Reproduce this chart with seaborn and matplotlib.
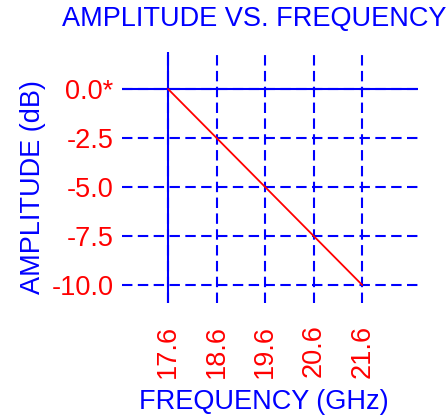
import seaborn as sns
import matplotlib.pyplot as plt
import pandas as pd

# chart values
freq_ghz = [17.6, 18.6, 19.6, 20.6, 21.6]
amplitude_db = [0.0, -2.5, -5.0, -7.5, -10.0]
y_ticks = [0.0, -2.5, -5.0, -7.5, -10.0]
y_tick_labels = ['0.0*', '-2.5', '-5.0', '-7.5', '-10.0']
x_tick_labels = ['17.6', '18.6', '19.6', '20.6', '21.6']

BLUE = '#0000ff'
RED = '#ff0000'
FS = 19.5

sns.set_theme(style='white')
plt.rcParams['font.family'] = ['Liberation Sans', 'DejaVu Sans']

df = pd.DataFrame({'freq': freq_ghz, 'amp': amplitude_db})

W, H = 447, 416
fig = plt.figure(figsize=(W / 100, H / 100), dpi=100)
# axes box in pixels: x 122..418, y 52..303
ax = fig.add_axes([122 / W, 1 - 303 / H, (418 - 122) / W, (303 - 52) / H])

sns.lineplot(data=df, x='freq', y='amp', color=RED, linewidth=1.3, ax=ax)

ax.set_xlim(16.65, 22.75)
ax.set_ylim(-10.92, 1.89)

ax.set_xticks(freq_ghz)
ax.set_xticklabels(x_tick_labels, rotation=90, color=RED, fontsize=FS)
ax.set_yticks(y_ticks)
ax.set_yticklabels(y_tick_labels, color=RED, fontsize=FS)
ax.tick_params(axis='both', length=0)
ax.tick_params(axis='y', pad=6)
ax.tick_params(axis='x', pad=15.5)

for s in ax.spines.values():
    s.set_visible(False)

ax.grid(True, color=BLUE, linewidth=1.5, linestyle=(0, (5, 2.6)))
ax.set_axisbelow(True)
ax.axhline(0, color=BLUE, linewidth=1.5, zorder=1.5)
ax.axvline(17.6, color=BLUE, linewidth=1.5, zorder=1.5)

ax.set_xlabel('')
ax.set_ylabel('')

fig.text(254 / W, 1 - 19 / H, 'AMPLITUDE VS. FREQUENCY', color=BLUE,
         fontsize=FS, ha='center', va='center')
fig.text(264 / W, 1 - 402 / H, 'FREQUENCY (GHz)', color=BLUE,
         fontsize=FS, ha='center', va='center')
fig.text(33 / W, 1 - 187 / H, 'AMPLITUDE (dB)', color=BLUE,
         fontsize=FS, ha='center', va='center', rotation=90)

fig.savefig('out.png', dpi=100)
